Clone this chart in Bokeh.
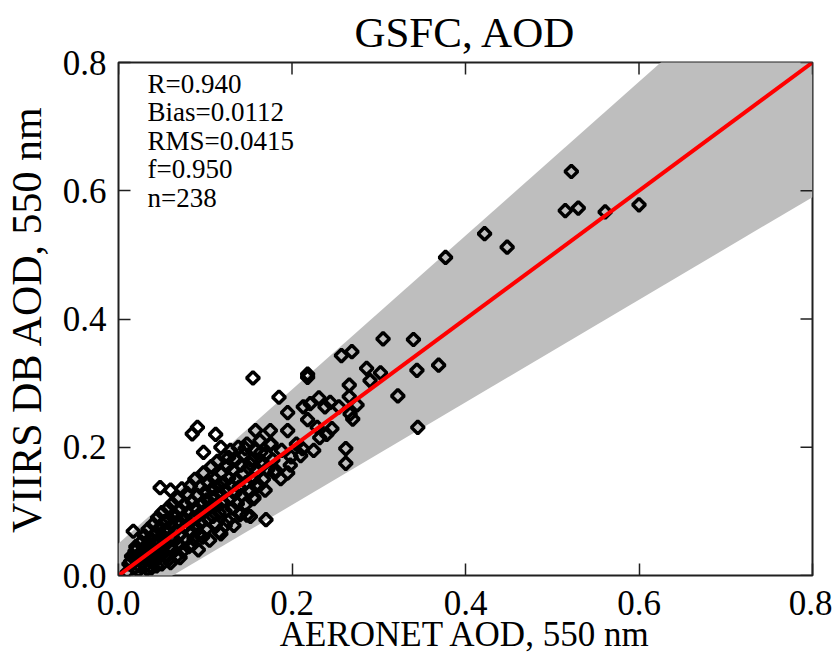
from bokeh.plotting import figure
from bokeh.models import Range1d, LinearAxis, FixedTicker, Label, ColumnDataSource
from bokeh.embed import file_html
from bokeh.resources import INLINE
import numpy as np

# ---- data -------------------------------------------------------------
aeronet_aod = [
    0.522, 0.515, 0.530, 0.561, 0.600, 0.422, 0.448, 0.377, 0.305, 0.340,
    0.257, 0.269, 0.286, 0.302, 0.344, 0.369, 0.290, 0.155, 0.218, 0.218,
    0.185, 0.266, 0.266, 0.322, 0.231, 0.244, 0.213, 0.221, 0.238, 0.254,
    0.275, 0.195, 0.267, 0.218, 0.246, 0.270, 0.229, 0.345, 0.158, 0.175,
    0.195, 0.262, 0.212,
    0.091, 0.085, 0.112, 0.098, 0.048, 0.017, 0.170, 0.116, 0.148, 0.146,
    0.118, 0.127, 0.152, 0.156, 0.060, 0.164, 0.166, 0.262, 0.198, 0.210,
    0.181, 0.187, 0.158, 0.169, 0.141, 0.123, 0.199, 0.232, 0.205, 0.188,
    0.176, 0.225, 0.240, 0.195,
    0.012, 0.015, 0.018, 0.020, 0.021, 0.023, 0.025, 0.026, 0.028, 0.029,
    0.030, 0.031, 0.032, 0.033, 0.034, 0.035, 0.036, 0.037, 0.038, 0.039,
    0.040, 0.041, 0.042, 0.043, 0.044, 0.045, 0.046, 0.047, 0.048, 0.049,
    0.050, 0.050, 0.051, 0.052, 0.053, 0.054, 0.055, 0.056, 0.057, 0.058,
    0.059, 0.060, 0.060, 0.061, 0.062, 0.063, 0.064, 0.065, 0.066, 0.067,
    0.068, 0.069, 0.070, 0.071, 0.072, 0.073, 0.074, 0.075, 0.076, 0.077,
    0.078, 0.079, 0.080, 0.081, 0.082, 0.083, 0.084, 0.085, 0.086, 0.087,
    0.088, 0.089, 0.090, 0.091, 0.092, 0.093, 0.094, 0.095, 0.096, 0.097,
    0.098, 0.099, 0.100, 0.101, 0.102, 0.103, 0.104, 0.105, 0.106, 0.107,
    0.108, 0.109, 0.110, 0.111, 0.112, 0.113, 0.114, 0.115, 0.116, 0.117,
    0.118, 0.119, 0.120, 0.121, 0.122, 0.123, 0.124, 0.125, 0.126, 0.127,
    0.128, 0.129, 0.130, 0.131, 0.132, 0.133, 0.134, 0.135, 0.136, 0.137,
    0.138, 0.139, 0.140, 0.141, 0.142, 0.143, 0.145, 0.146, 0.147, 0.148,
    0.150, 0.151, 0.152, 0.153, 0.155, 0.156, 0.158, 0.160, 0.162, 0.163,
    0.165, 0.167, 0.170, 0.172, 0.175, 0.178, 0.180,
    0.010, 0.014, 0.019, 0.024, 0.027, 0.033, 0.040, 0.044, 0.053, 0.058,
    0.066, 0.071, 0.085, 0.093,
]
viirs_aod = [
    0.630, 0.569, 0.573, 0.567, 0.578, 0.533, 0.512, 0.496, 0.369, 0.368,
    0.343, 0.349, 0.323, 0.316, 0.320, 0.328, 0.304, 0.308, 0.314, 0.309,
    0.278, 0.297, 0.279, 0.280, 0.277, 0.270, 0.263, 0.268, 0.263, 0.263,
    0.266, 0.254, 0.252, 0.243, 0.229, 0.244, 0.231, 0.231, 0.226, 0.226,
    0.226, 0.198, 0.198,
    0.231, 0.221, 0.220, 0.192, 0.137, 0.069, 0.087, 0.068, 0.094, 0.198,
    0.200, 0.184, 0.174, 0.122, 0.133, 0.192, 0.172, 0.175, 0.172, 0.187,
    0.164, 0.151, 0.140, 0.133, 0.097, 0.078, 0.185, 0.215, 0.205, 0.195,
    0.205, 0.195, 0.220, 0.160,
    0.018, 0.030, 0.012, 0.045, 0.025, 0.008, 0.035, 0.052, 0.020, 0.041,
    0.062, 0.015, 0.030, 0.048, 0.072, 0.025, 0.040, 0.058, 0.012, 0.034,
    0.080, 0.050, 0.022, 0.066, 0.038, 0.090, 0.055, 0.030, 0.075, 0.045,
    0.018, 0.098, 0.062, 0.036, 0.084, 0.052, 0.028, 0.070, 0.105, 0.044,
    0.088, 0.060, 0.020, 0.078, 0.112, 0.040, 0.095, 0.055, 0.070, 0.030,
    0.120, 0.085, 0.048, 0.102, 0.065, 0.135, 0.038, 0.090, 0.075, 0.110,
    0.055, 0.128, 0.098, 0.045, 0.082, 0.140, 0.068, 0.115, 0.090, 0.058,
    0.150, 0.105, 0.075, 0.125, 0.040, 0.095, 0.138, 0.082, 0.112, 0.060,
    0.160, 0.100, 0.130, 0.072, 0.118, 0.088, 0.145, 0.055, 0.108, 0.170,
    0.135, 0.092, 0.122, 0.150, 0.080, 0.110, 0.178, 0.140, 0.098, 0.128,
    0.065, 0.160, 0.115, 0.145, 0.185, 0.100, 0.132, 0.170, 0.085, 0.152,
    0.120, 0.195, 0.140, 0.105, 0.165, 0.078, 0.128, 0.180, 0.150, 0.112,
    0.200, 0.138, 0.095, 0.172, 0.125, 0.158, 0.188, 0.110, 0.145, 0.205,
    0.168, 0.130, 0.092, 0.180, 0.150, 0.120, 0.195, 0.162, 0.140, 0.210,
    0.178, 0.150, 0.190, 0.165, 0.205, 0.180, 0.160,
    0.005, 0.022, 0.038, 0.015, 0.028, 0.010, 0.062, 0.015, 0.070, 0.025,
    0.092, 0.028, 0.048, 0.065,
]

stat_labels = ["R=0.940", "Bias=0.0112", "RMS=0.0415", "f=0.950", "n=238"]
tick_values = [0.0, 0.2, 0.4, 0.6, 0.8]
tick_labels = ["0.0", "0.2", "0.4", "0.6", "0.8"]
ee_abs = 0.05   # expected error envelope  +-(0.05 + 0.2*AOD)
ee_rel = 0.20
axis_min, axis_max = 0.0, 0.8

FONT = "Liberation Serif"
FRAME_W, FRAME_H = 694, 513
TICK_LEN = 12

p = figure(frame_width=FRAME_W, frame_height=FRAME_H,
           x_range=Range1d(axis_min, axis_max), y_range=Range1d(axis_min, axis_max),
           output_backend="svg", toolbar_location=None,
           x_axis_location=None, y_axis_location=None,
           min_border_left=118, min_border_right=20,
           min_border_top=62, min_border_bottom=0)

p.grid.visible = False
p.background_fill_color = "white"
p.border_fill_color = "white"
p.outline_line_color = "#202020"
p.outline_line_width = 2

# title
p.title.text = "GSFC, AOD"
p.title.text_font = FONT
p.title.text_font_size = "43px"
p.title.text_font_style = "normal"
p.title.text_color = "black"
p.title.align = "center"
p.title.standoff = 13
p.title.offset = 0

# envelope
env_x = np.linspace(axis_min, axis_max, 2)
env_hi = env_x + (ee_abs + ee_rel * env_x)
env_lo = env_x - (ee_abs + ee_rel * env_x)
p.varea(x=env_x, y1=env_lo, y2=env_hi, fill_color="#bebebe")

# data points
src = ColumnDataSource(dict(x=aeronet_aod, y=viirs_aod))
p.scatter("x", "y", source=src, marker="square", angle=np.pi / 4, size=9,
          fill_color=None, line_color="black", line_width=3.5)

# 1:1 line
p.line([axis_min, axis_max], [axis_min, axis_max], line_color="red", line_width=4)

def style_axis(ax):
    ax.ticker = FixedTicker(ticks=tick_values)
    ax.major_label_overrides = {v: s for v, s in zip(tick_values, tick_labels)}
    ax.minor_tick_line_color = None
    ax.major_tick_in = TICK_LEN
    ax.major_tick_out = 0
    ax.major_tick_line_width = 1.5
    ax.major_tick_line_color = "#202020"
    ax.axis_line_color = None
    ax.major_label_text_font = FONT
    ax.major_label_text_color = "black"
    ax.major_label_text_font_size = "35px"
    ax.axis_label_text_font = FONT
    ax.axis_label_text_font_style = "normal"
    ax.axis_label_text_color = "black"

xb = LinearAxis(axis_label="AERONET AOD, 550 nm")
style_axis(xb)
xb.major_label_standoff = 15
xb.axis_label_standoff = -3
xb.axis_label_text_font_size = "35px"
p.add_layout(xb, "below")

yl = LinearAxis(axis_label="VIIRS DB AOD, 550 nm")
style_axis(yl)
yl.major_label_standoff = 12
yl.axis_label_standoff = 10
yl.axis_label_text_font_size = "42px"
p.add_layout(yl, "left")

# inward ticks on the top and right edges of the frame
px_per_unit_x = FRAME_W / (axis_max - axis_min)
px_per_unit_y = FRAME_H / (axis_max - axis_min)
tv = np.array(tick_values)
p.segment(x0=tv, y0=np.full_like(tv, axis_max), x1=tv,
          y1=np.full_like(tv, axis_max - TICK_LEN / px_per_unit_y),
          line_color="#202020", line_width=1.5)
p.segment(x0=np.full_like(tv, axis_max), y0=tv,
          x1=np.full_like(tv, axis_max - TICK_LEN / px_per_unit_x), y1=tv,
          line_color="#202020", line_width=1.5)

# statistics text
for i, s in enumerate(stat_labels):
    p.add_layout(Label(x=axis_min + 29 / px_per_unit_x,
                       y=axis_max - (6 + 28.5 * i) / px_per_unit_y,
                       text=s, text_font=FONT, text_font_size="27px",
                       text_baseline="top", text_align="left", text_color="black"))

open("out.html", "w").write(file_html(p, INLINE))
